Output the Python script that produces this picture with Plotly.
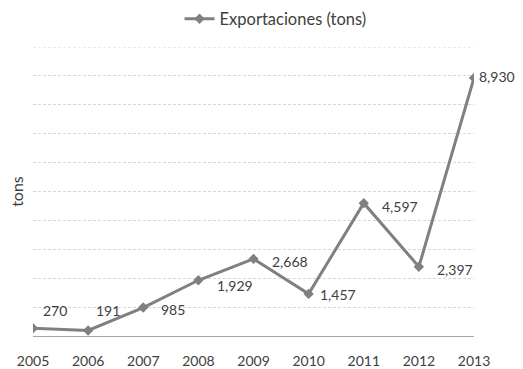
import plotly.graph_objects as go

years = ["2005", "2006", "2007", "2008", "2009", "2010", "2011", "2012", "2013"]
exports = [270, 191, 985, 1929, 2668, 1457, 4597, 2397, 8930]
labels = ["270", "191", "985", "1,929", "2,668", "1,457", "4,597", "2,397", "8,930"]
label_dx = [22, 20, 30, 37, 36, 29, 36, 36, 23]
label_dy = [18, 20, -2, -5, -3, -1, -3, -3, 1]
y_max = 10000

fig = go.Figure()
fig.add_trace(go.Scatter(
    x=years, y=exports, mode="lines+markers", name="Exportaciones (tons)",
    line=dict(color="#808080", width=3),
    marker=dict(symbol="diamond", size=8, color="#808080"),
))
for i, (y, t, dx, dy) in enumerate(zip(exports, labels, label_dx, label_dy)):
    fig.add_annotation(x=i, y=y, text=t, showarrow=False, xshift=dx, yshift=dy,
                       font=dict(family="Lato", size=14, color="#404040"))

# top gridline (plotly clips gridlines at the plot edge)
fig.add_shape(type="line", xref="paper", yref="y", x0=0, x1=1, y0=y_max, y1=y_max,
              line=dict(color="#d6d6d6", width=1, dash="3px,2px"), layer="below")

fig.update_layout(
    width=523, height=369,
    margin=dict(l=33, r=49, t=47, b=33, autoexpand=False),
    paper_bgcolor="white", plot_bgcolor="white",
    font=dict(family="Lato", color="#404040", size=13),
    showlegend=True,
    legend=dict(orientation="h", x=0.55, xanchor="center", y=1.097, yanchor="middle",
                xref="paper", font=dict(size=16.5, color="#404040")),
    xaxis=dict(type="category", range=[0, 8], showgrid=False, showline=True,
               linecolor="#a6a6a6", linewidth=1, ticks="", ticklabelstandoff=12,
               tickfont=dict(size=14, color="#404040")),
    yaxis=dict(range=[0, y_max], dtick=1000, showticklabels=False, showgrid=True,
               gridcolor="#d6d6d6", griddash="3px,2px", gridwidth=1, zeroline=False,
               title=dict(text="tons", font=dict(size=16, color="#404040"), standoff=4)),
)
fig.write_html("out.html")
